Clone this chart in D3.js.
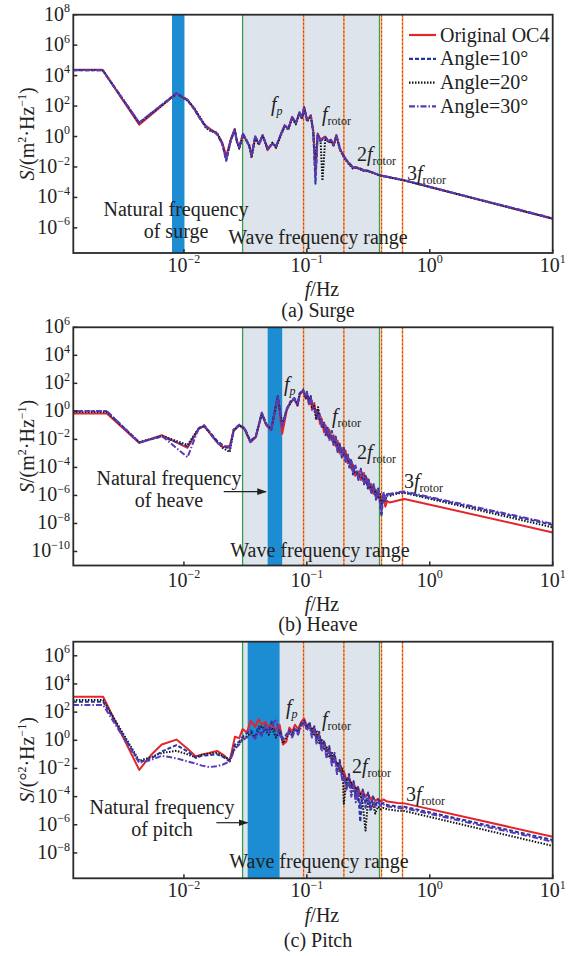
<!DOCTYPE html>
<html><head><meta charset="utf-8">
<script src="https://cdn.jsdelivr.net/npm/d3@7"></script>
<style>
body{margin:0;background:#fff}
svg{display:block}
text{font-family:"Liberation Serif","Times New Roman",serif;fill:#222}
</style>
</head><body>
<svg id="c" width="574" height="956"></svg>
<script>
// ---------------- DATA ----------------
const seriesNames = ["Original OC4", "Angle=10°", "Angle=20°", "Angle=30°"];
const xTickValues = [0.01, 0.1, 1, 10];
const xTickExps = ["-2", "-1", "0", "1"];

// markers (Hz)
const waveRange = [0.03, 0.39];
const rotorLines = [0.094, 0.2, 0.405, 0.6];
const surgeBand = [0.008, 0.0101];
const heaveBand = [0.048, 0.063];
const pitchBand = [0.033, 0.06];

// Surge spectra: frequency (Hz) and log10 S
const surgeFreq = [0.00125,0.00218,0.00433,0.0087,0.0107,0.0121,0.0132,0.0141,0.0151,0.0166,
 0.0186,0.0205,0.0221,0.0240,0.0259,0.0270,0.0282,0.0302,0.0324,0.0340,
 0.0355,0.0380,0.0407,0.0437,0.0460,0.0479,0.0525,0.0562,0.0617,0.0660,
 0.0708,0.0759,0.0813,0.0871,0.0912,0.0950,0.1005,0.1076,0.1127,0.1175,
 0.1225,0.1294,0.1340,0.1413,0.1500,0.1570,0.1650,0.1738,0.1862,0.1950,
 0.2065,0.2213,0.2371,0.2520,0.2723,0.2900,0.3126,0.3917,0.6223,10];
const surgeOC4 = [4.38,4.38,0.78,2.82,2.40,1.85,1.35,1.00,0.70,0.45,
 0.20,-0.40,-1.30,-0.20,0.50,-0.30,-0.75,0.15,-0.30,-0.60,
 -1.30,-0.05,-0.50,0.10,-0.40,-0.90,-0.45,-0.70,0.20,0.75,
 0.50,1.30,0.85,1.60,1.20,1.95,1.05,1.40,0.40,-2.40,
 0.20,-0.25,-0.10,0.00,-0.35,-0.20,-0.60,0.10,-0.85,-1.10,
 -1.45,-1.80,-2.05,-2.00,-2.15,-2.25,-2.25,-2.55,-2.88,-5.40];
const surge10 = [4.36,4.36,0.90,2.86,2.38,1.80,1.30,0.95,0.62,0.40,
 0.15,-0.50,-1.60,-0.30,0.45,-0.35,-0.70,0.20,-0.25,-0.65,
 -1.20,0.00,-0.45,0.05,-0.35,-0.80,-0.50,-0.60,0.15,0.70,
 0.55,1.25,0.90,1.55,1.25,1.90,1.10,1.35,0.35,-3.10,
 0.15,-0.30,-0.20,-0.05,-0.30,-0.25,-0.55,0.05,-0.80,-1.15,
 -1.50,-1.75,-2.00,-2.05,-2.10,-2.20,-2.25,-2.55,-2.88,-5.38];
const surge20 = [4.37,4.37,0.88,2.80,2.35,1.90,1.40,1.05,0.55,0.35,
 0.25,-0.45,-1.50,-0.25,0.40,-0.40,-0.80,0.10,-0.35,-0.55,
 -1.40,-0.10,-0.55,0.00,-0.45,-0.85,-0.40,-0.75,0.10,0.65,
 0.45,1.20,0.80,1.50,1.15,1.85,1.00,1.30,0.30,-1.50,
 0.10,-0.35,-2.90,-0.10,-0.40,-0.30,-0.65,0.00,-0.90,-1.20,
 -1.55,-1.85,-2.10,-2.05,-2.15,-2.25,-2.28,-2.56,-2.89,-5.40];
const surge30 = [4.35,4.35,0.92,2.84,2.42,1.82,1.32,0.98,0.65,0.42,
 0.18,-0.48,-1.55,-0.28,0.48,-0.32,-0.72,0.18,-0.28,-0.62,
 -1.25,0.02,-0.48,0.08,-0.38,-0.82,-0.48,-0.65,0.18,0.72,
 0.52,1.28,0.88,1.58,1.22,1.92,1.08,1.38,0.38,-2.80,
 0.18,-0.28,-0.15,-0.02,-0.32,-0.22,-0.58,0.08,-0.82,-1.12,
 -1.48,-1.78,-2.02,-2.02,-2.12,-2.22,-2.24,-2.54,-2.87,-5.37];

// Heave spectra
const heaveFreq = [0.00125,0.00236,0.00433,0.0066,0.0107,0.0132,0.0146,0.0186,0.0206,0.0236,
 0.0254,0.0282,0.0312,0.0347,0.0384,0.0430,0.0468,0.0513,0.0580,0.0630,
 0.0687,0.0736,0.0789,0.0840,0.0875,0.0933,0.0980,0.1000,0.1040,0.1076,
 0.1100,0.1148,0.1190,0.1233,0.1280,0.1320,0.1380,0.1420,0.1480,0.1520,
 0.1600,0.1650,0.1720,0.1780,0.1850,0.1925,0.2000,0.2065,0.2150,0.2213,
 0.2300,0.2371,0.2470,0.2630,0.2750,0.2920,0.3000,0.3126,0.3200,0.3350,
 0.3500,0.3650,0.3800,0.3917,0.4050,0.4200,0.4350,0.4500,0.4700,0.5000,
 0.5300,0.5600,0.6223,10];
const heaveOC4 = [-0.16,-0.16,-2.25,-1.70,-2.60,-1.25,-1.05,-2.20,-2.55,-2.45,
 -1.40,-1.00,-1.30,-2.20,-1.85,-0.20,-1.00,-1.35,1.00,-1.60,
 0.10,0.65,0.90,0.40,1.20,1.45,0.90,1.30,0.50,1.00,
 0.10,0.60,-0.40,0.10,-0.90,-0.50,-1.50,-1.00,-1.80,-1.30,
 -2.10,-1.70,-2.50,-2.10,-3.00,-2.60,-3.20,-2.80,-3.70,-3.40,
 -4.10,-3.80,-4.60,-4.30,-4.90,-4.40,-5.10,-4.80,-5.50,-5.20,
 -5.90,-5.60,-6.20,-5.90,-6.60,-6.20,-6.80,-6.40,-6.50,-6.45,
 -6.40,-6.35,-6.25,-8.64];
const heave10 = [0.00,0.00,-2.20,-1.80,-2.50,-1.20,-1.00,-2.10,-2.40,-2.70,
 -1.30,-0.95,-1.20,-2.10,-1.80,-0.10,-0.90,-1.30,1.10,-1.00,
 0.20,0.70,0.95,0.50,1.30,1.50,1.00,1.40,0.60,1.10,
 0.60,0.00,0.10,-0.50,-0.30,-1.10,-0.80,-1.70,-1.10,-2.00,
 -1.40,-2.40,-1.80,-2.90,-2.30,-3.30,-2.60,-3.60,-3.00,-4.00,
 -3.40,-4.50,-3.80,-4.90,-4.10,-5.20,-4.50,-5.50,-4.90,-5.90,
 -5.20,-6.30,-5.50,-6.40,-7.50,-5.80,-6.40,-5.90,-6.00,-5.90,
 -5.85,-5.80,-5.78,-8.10];
const heave20 = [-0.05,-0.05,-2.20,-1.75,-2.40,-1.20,-1.05,-2.15,-2.60,-2.90,
 -1.35,-1.00,-1.25,-2.15,-1.80,-0.15,-0.95,-1.25,1.05,-0.90,
 0.15,0.60,0.95,0.45,1.25,1.55,0.95,1.35,0.70,1.05,
 0.30,0.40,-0.60,0.30,-0.60,-0.90,-1.20,-1.40,-1.50,-1.90,
 -1.80,-2.20,-2.20,-2.60,-2.70,-2.90,-3.10,-3.30,-3.40,-3.70,
 -3.80,-4.00,-4.40,-4.50,-4.60,-4.90,-4.80,-5.30,-5.10,-5.60,
 -5.50,-5.90,-6.10,-5.80,-6.90,-5.90,-6.30,-6.00,-6.05,-5.95,
 -5.90,-5.85,-5.82,-8.28];
const heave30 = [0.02,0.02,-2.25,-1.75,-3.27,-1.20,-1.00,-2.25,-2.45,-2.60,
 -1.30,-0.95,-1.25,-2.20,-1.80,-0.10,-0.95,-1.35,1.05,-1.10,
 0.15,0.70,0.90,0.45,1.25,1.50,1.05,1.35,0.55,1.05,
 0.40,0.20,0.00,-0.60,-0.20,-1.00,-0.90,-1.50,-1.20,-2.10,
 -1.50,-2.30,-1.90,-2.80,-2.40,-3.20,-2.70,-3.50,-3.10,-3.90,
 -3.50,-4.40,-3.90,-4.80,-4.20,-5.10,-4.60,-5.40,-5.00,-5.80,
 -5.30,-6.20,-5.60,-6.30,-7.20,-5.75,-6.30,-5.85,-5.90,-5.85,
 -5.80,-5.75,-5.72,-8.02];

// Pitch spectra
const pitchFreq = [0.00125,0.0022,0.00433,0.0054,0.0066,0.0087,0.0107,0.0125,0.0140,0.0160,
 0.0186,0.0210,0.0236,0.0260,0.0282,0.0300,0.0325,0.0350,0.0380,0.0405,
 0.0430,0.0460,0.0490,0.0520,0.0560,0.0600,0.0640,0.0680,0.0720,0.0760,
 0.0800,0.0850,0.0900,0.0950,0.1000,0.1050,0.1100,0.1150,0.1200,0.1260,
 0.1320,0.1380,0.1450,0.1520,0.1600,0.1680,0.1760,0.1850,0.1950,0.2000,
 0.2100,0.2200,0.2300,0.2400,0.2500,0.2600,0.2720,0.2850,0.3000,0.3150,
 0.3300,0.3450,0.3600,0.3800,0.4000,0.4200,0.4500,0.5000,0.5500,0.6223,10];
const pitchOC4 = [3.09,3.09,-2.10,-1.05,-0.30,0.05,-0.60,-1.15,-1.00,-0.90,
 -0.75,-1.05,-1.45,0.25,0.15,0.80,0.55,1.40,0.95,1.50,
 1.10,1.30,0.90,1.20,0.70,1.10,-0.30,-0.10,0.90,0.60,
 1.10,0.80,1.30,1.55,1.00,1.20,0.60,0.90,0.20,0.40,
 -0.30,-0.10,-0.80,-0.60,-1.30,-1.10,-1.80,-1.60,-2.30,-2.20,
 -2.80,-2.60,-3.20,-3.00,-3.50,-3.30,-3.80,-3.60,-4.00,-3.80,
 -4.20,-4.00,-4.30,-4.15,-4.35,-4.20,-4.35,-4.40,-4.45,-4.48,-6.85];
const pitch10 = [2.74,2.74,-1.55,-1.30,-0.80,-0.34,-0.80,-1.25,-1.10,-1.05,
 -1.00,-1.20,-1.50,-0.30,-0.10,0.25,0.50,0.70,0.30,1.00,
 0.40,0.90,0.60,1.40,0.30,0.80,0.10,0.40,0.70,0.30,
 0.90,0.50,1.20,1.40,0.80,1.30,0.40,1.00,0.00,0.60,
 -0.60,0.00,-1.10,-0.40,-1.60,-0.90,-2.10,-1.40,-2.80,-2.50,
 -3.30,-2.40,-3.70,-2.90,-4.10,-3.30,-5.80,-3.50,-4.50,-3.70,
 -4.80,-4.00,-4.70,-4.20,-4.55,-4.45,-4.60,-4.65,-4.70,-4.72,-7.08];
const pitch20 = [2.86,2.86,-1.45,-1.20,-0.90,-0.75,-1.00,-1.20,-1.05,-0.95,
 -0.90,-1.15,-1.40,-0.50,-0.20,0.10,0.30,0.50,0.20,0.80,
 1.00,0.70,0.40,0.90,0.20,0.60,-0.20,0.20,0.50,0.40,
 0.80,0.60,1.10,1.30,0.90,0.80,0.90,0.30,0.70,-0.20,
 0.10,-0.60,-0.50,-1.20,-0.90,-1.60,-1.50,-2.20,-2.00,-4.50,
 -2.70,-3.20,-3.00,-3.70,-3.40,-4.30,-3.80,-4.60,-6.40,-4.20,
 -5.00,-4.50,-5.20,-4.70,-4.90,-4.80,-4.90,-4.95,-5.00,-5.02,-7.50];
const pitch30 = [2.50,2.50,-1.60,-1.40,-1.10,-1.28,-1.50,-1.65,-1.80,-1.90,
 -1.85,-1.70,-1.50,-0.60,-0.30,0.00,0.20,0.40,0.10,0.60,
 0.30,1.10,0.50,1.00,1.50,0.40,0.00,0.30,0.60,0.20,
 0.70,0.40,1.00,1.20,0.70,1.00,0.20,0.80,-0.30,0.30,
 -0.80,-0.30,-1.30,-0.80,-1.80,-1.30,-2.40,-1.80,-2.90,-2.60,
 -3.50,-2.90,-4.00,-3.20,-4.40,-3.50,-4.60,-3.90,-4.80,-4.10,
 -4.90,-4.30,-4.80,-4.40,-4.65,-4.55,-4.70,-4.75,-4.80,-4.82,-7.20];

// y tick exponents per panel
const surgeYTicks = [8,6,4,2,0,-2,-4,-6];
const heaveYTicks = [6,4,2,0,-2,-4,-6,-8,-10];
const pitchYTicks = [6,4,2,0,-2,-4,-6,-8];

// ---------------- STYLE ----------------
const seriesStyle = [
  {color:"#e3262b", dash:null},
  {color:"#26349e", dash:"4,2"},
  {color:"#111111", dash:"1.5,1.5"},
  {color:"#5a3bb4", dash:"6,2,1.5,2"}
];
const drawOrder = [0,2,1,3];
const FONT = 20;

const svg = d3.select("#c");
const defs = svg.append("defs");
defs.append("marker").attr("id","arr").attr("viewBox","0 0 10 10").attr("refX",9).attr("refY",5)
  .attr("markerWidth",8).attr("markerHeight",8).attr("orient","auto")
  .append("path").attr("d","M0,1.5 L10,5 L0,8.5 Z").attr("fill","#222");

function rich(g, x, y, parts, o = {}) {
  const size = o.size || FONT;
  const t = g.append("text")
    .attr("transform", `translate(${x},${y})` + (o.rot ? ` rotate(${o.rot})` : ""))
    .attr("text-anchor", o.anchor || "start").attr("font-size", size);
  let shift = 0;
  parts.forEach(p => {
    if (typeof p === "string") p = {t: p};
    const target = p.sup ? -size * 0.42 : p.sub ? size * 0.22 : 0;
    const ts = t.append("tspan").text(p.t).attr("dy", target - shift);
    shift = target;
    if (p.sup || p.sub) ts.attr("font-size", size * (p.scale || 0.6));
    if (p.it) ts.attr("font-style", "italic");
  });
  return t;
}

const X0 = 73.3, X1 = 552.7;
const x = d3.scaleLog().domain([Math.pow(10,-2.9), 10]).range([X0, X1]);

const panels = [
  {top:14.7, bottom:253, yd:[-7.65, 8], ticks:surgeYTicks, freq:surgeFreq,
   series:[surgeOC4,surge10,surge20,surge30], band:surgeBand, unit:"m",
   tickBase:271.5, xlabY:295.5, capY:316.5, cap:"(a) Surge",
   fp:[271,111], fr:[322,121], f2:[357,161], f3:[407,180],
   nat:[176,215.5,237.5], natLabel:"of surge", arrow:null, wave:[318,244]},
  {top:327.3, bottom:565.5, yd:[-11, 6], ticks:heaveYTicks, freq:heaveFreq,
   series:[heaveOC4,heave10,heave20,heave30], band:heaveBand, unit:"m",
   tickBase:586.5, xlabY:610.5, capY:631, cap:"(b) Heave",
   fp:[284,391], fr:[332,423], f2:[357,459], f3:[404,488],
   nat:[169,484.5,506.5], natLabel:"of heave", arrow:[223.7,265.9,491.7], wave:[320,557]},
  {top:641.7, bottom:878.3, yd:[-9.8, 7], ticks:pitchYTicks, freq:pitchFreq,
   series:[pitchOC4,pitch10,pitch20,pitch30], band:pitchBand, unit:"deg",
   tickBase:897, xlabY:922, capY:947, cap:"(c) Pitch",
   fp:[286,714], fr:[322,726], f2:[352,773], f3:[406,801],
   nat:[162,813.5,835.5], natLabel:"of pitch", arrow:[216.4,247.5,822.7], wave:[319,868]}
];

panels.forEach((P, pi) => {
  const y = d3.scaleLog().domain([Math.pow(10,P.yd[0]), Math.pow(10,P.yd[1])]).range([P.bottom, P.top]);
  const g = svg.append("g");
  const cid = "clip" + pi;
  defs.append("clipPath").attr("id", cid).append("rect")
    .attr("x", X0).attr("y", P.top).attr("width", X1 - X0).attr("height", P.bottom - P.top);
  const inner = g.append("g").attr("clip-path", `url(#${cid})`);

  // wave frequency range shading
  inner.append("rect").attr("x", x(waveRange[0])).attr("y", P.top)
    .attr("width", x(waveRange[1]) - x(waveRange[0])).attr("height", P.bottom - P.top)
    .attr("fill", "#dde4eb");
  // natural frequency band
  inner.append("rect").attr("x", x(P.band[0])).attr("y", P.top)
    .attr("width", x(P.band[1]) - x(P.band[0])).attr("height", P.bottom - P.top)
    .attr("fill", "#1c8dd2");
  // green lines
  waveRange.forEach(f => inner.append("line").attr("x1", x(f)).attr("x2", x(f))
    .attr("y1", P.top).attr("y2", P.bottom).attr("stroke", "#3b9b4f").attr("stroke-width", 1.3));
  // rotor / peak lines
  rotorLines.forEach(f => {
    inner.append("line").attr("x1", x(f)).attr("x2", x(f)).attr("y1", P.top).attr("y2", P.bottom)
      .attr("stroke", "#f2a23a").attr("stroke-width", 1.5);
    inner.append("line").attr("x1", x(f)).attr("x2", x(f)).attr("y1", P.top).attr("y2", P.bottom)
      .attr("stroke", "#e2352a").attr("stroke-width", 1.1).attr("stroke-dasharray", "2,2");
  });

  // spectra
  drawOrder.forEach(si => {
    const vals = P.series[si];
    const pts = P.freq.map((f, i) => [f, Math.pow(10, vals[i])]);
    const line = d3.line().x(d => x(d[0])).y(d => y(d[1]));
    const st = seriesStyle[si];
    inner.append("path").attr("d", line(pts)).attr("fill", "none")
      .attr("stroke", st.color).attr("stroke-width", 2)
      .attr("stroke-dasharray", st.dash).attr("stroke-linejoin", "round");
  });

  // frame
  g.append("rect").attr("x", X0).attr("y", P.top).attr("width", X1 - X0).attr("height", P.bottom - P.top)
    .attr("fill", "none").attr("stroke", "#2a2a2a").attr("stroke-width", 1.8);

  // y ticks (inside) and labels
  P.ticks.forEach(e => {
    const yy = y(Math.pow(10, e));
    g.append("line").attr("x1", X0).attr("x2", X0 + 4).attr("y1", yy).attr("y2", yy)
      .attr("stroke", "#2a2a2a").attr("stroke-width", 1.5);
    rich(g, 70, yy + 6, ["10", {t: String(e).replace("-", "\u2212"), sup: true}], {anchor: "end"});
  });
  // x ticks and labels
  xTickValues.forEach((v, i) => {
    const xx = x(v);
    g.append("line").attr("x1", xx).attr("x2", xx).attr("y1", P.bottom).attr("y2", P.bottom - 4)
      .attr("stroke", "#2a2a2a").attr("stroke-width", 1.5);
    rich(g, xx, P.tickBase, ["10", {t: xTickExps[i].replace("-", "\u2212"), sup: true}], {anchor: "middle"});
  });

  // axis labels
  rich(g, 322, P.xlabY, [{t: "f", it: true}, "/Hz"], {anchor: "middle"});
  rich(g, 318, P.capY, [P.cap], {anchor: "middle"});
  const unitParts = P.unit === "m"
    ? [{t: "S", it: true}, "/(m", {t: "2", sup: true}, "\u00b7Hz", {t: "\u22121", sup: true}, ")"]
    : [{t: "S", it: true}, "/(\u00b0", {t: "2", sup: true}, "\u00b7Hz", {t: "\u22121", sup: true}, ")"];
  rich(g, 34, (P.top + P.bottom) / 2, unitParts, {anchor: "middle", rot: -90});

  // annotations
  rich(g, P.fp[0], P.fp[1], [{t: "f", it: true}, {t: "p", it: true, sub: true}]);
  rich(g, P.fr[0], P.fr[1], [{t: "f", it: true}, {t: "rotor", sub: true}]);
  rich(g, P.f2[0], P.f2[1], ["2", {t: "f", it: true}, {t: "rotor", sub: true}]);
  rich(g, P.f3[0], P.f3[1], ["3", {t: "f", it: true}, {t: "rotor", sub: true}]);
  rich(g, P.nat[0], P.nat[1], ["Natural frequency"], {anchor: "middle"});
  rich(g, P.nat[0], P.nat[2], [P.natLabel], {anchor: "middle"});
  rich(g, P.wave[0], P.wave[1], ["Wave frequency range"], {anchor: "middle"});
  if (P.arrow) {
    g.append("line").attr("x1", P.arrow[0]).attr("x2", P.arrow[1]).attr("y1", P.arrow[2]).attr("y2", P.arrow[2])
      .attr("stroke", "#222").attr("stroke-width", 1.2).attr("marker-end", "url(#arr)");
  }

  // legend in first panel
  if (pi === 0) {
    const lg = g.append("g");
    seriesNames.forEach((name, i) => {
      const cy = 35 + i * 23.8;
      const st = seriesStyle[i];
      lg.append("line").attr("x1", 409).attr("x2", 436).attr("y1", cy).attr("y2", cy)
        .attr("stroke", st.color).attr("stroke-width", 2.2).attr("stroke-dasharray", st.dash);
      rich(lg, 440, cy + 6.5, [name]);
    });
  }
});
</script>
</body></html>
